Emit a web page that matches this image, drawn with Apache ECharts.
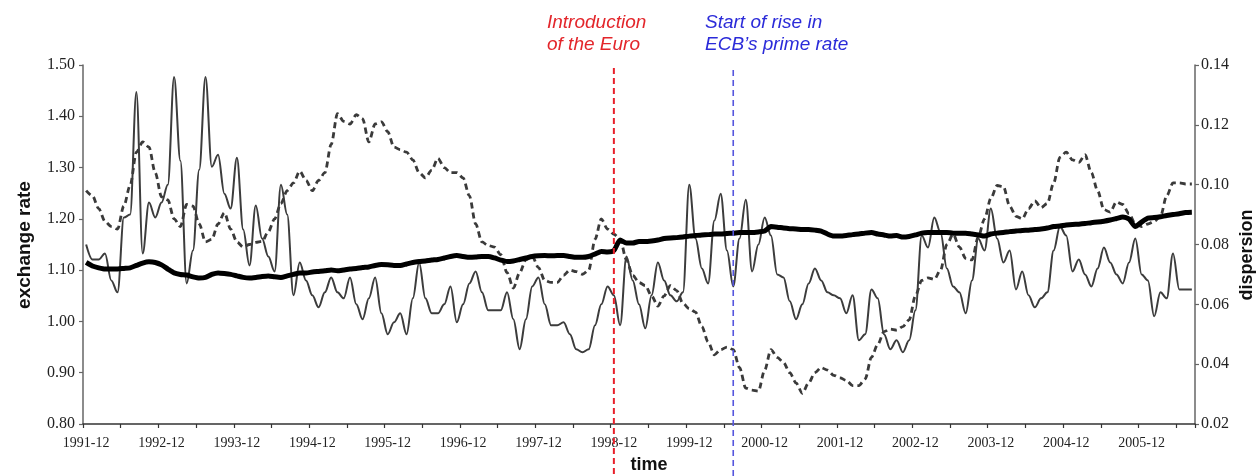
<!DOCTYPE html>
<html>
<head>
<meta charset="utf-8">
<script src="https://cdn.jsdelivr.net/npm/echarts@6/dist/echarts.min.js"></script>
<style>
  html, body { margin: 0; padding: 0; background: #ffffff; }
  #chart { width: 1260px; height: 476px; }
</style>
</head>
<body>
<div id="chart"></div>
<script>
// Monthly observations, 1991-12 through 2006-08
const startYear = 1991, startMonth = 12, monthCount = 177;
const months = [];
for (let i = 0; i < monthCount; i++) {
  const t = (startMonth - 1) + i;
  const y = startYear + Math.floor(t / 12);
  const m = (t % 12) + 1;
  months.push(y + '-' + (m < 10 ? '0' + m : m));
}

// Exchange rate (left axis)
const exchangeRate = [
  1.255, 1.245, 1.22, 1.195, 1.185, 1.18, 1.225, 1.265, 1.33, 1.35,
  1.34, 1.29, 1.243, 1.237, 1.20, 1.185, 1.228, 1.225, 1.19, 1.155,
  1.16, 1.19, 1.212, 1.18, 1.155, 1.145, 1.15, 1.154, 1.156, 1.175,
  1.20, 1.23, 1.255, 1.27, 1.293, 1.275, 1.255, 1.275, 1.29, 1.345,
  1.405, 1.39, 1.385, 1.403, 1.395, 1.35, 1.385, 1.389, 1.37, 1.34,
  1.335, 1.33, 1.315, 1.29, 1.28, 1.295, 1.318, 1.30, 1.29, 1.29,
  1.28, 1.245, 1.19, 1.155, 1.148, 1.145, 1.13, 1.095, 1.065, 1.095,
  1.12, 1.127, 1.105, 1.08, 1.076, 1.076, 1.09, 1.10, 1.097, 1.092,
  1.10, 1.16, 1.20, 1.18, 1.17, 1.16, 1.12, 1.09, 1.076, 1.07,
  1.05, 1.03, 1.05, 1.07, 1.06, 1.035, 1.025, 1.018, 0.99, 0.96,
  0.935, 0.945, 0.95, 0.945, 0.91, 0.87, 0.866, 0.864, 0.905, 0.945,
  0.93, 0.92, 0.90, 0.88, 0.86, 0.88, 0.90, 0.91, 0.905, 0.895,
  0.89, 0.885, 0.875, 0.875, 0.888, 0.93, 0.955, 0.98, 0.985, 0.983,
  0.99, 1.003, 1.05, 1.08, 1.085, 1.082, 1.10, 1.15, 1.17, 1.145,
  1.123, 1.12, 1.165, 1.20, 1.24, 1.265, 1.263, 1.225, 1.205, 1.20,
  1.22, 1.235, 1.222, 1.23, 1.27, 1.32, 1.33, 1.315, 1.31, 1.325,
  1.29, 1.255, 1.218, 1.213, 1.233, 1.228, 1.21, 1.19, 1.185, 1.19,
  1.195, 1.205, 1.245, 1.27, 1.27, 1.268, 1.268
];

// Dispersion, monthly (right axis)
const dispersion = [
  0.080, 0.075, 0.075, 0.077, 0.068, 0.064, 0.089, 0.090, 0.131, 0.077,
  0.094, 0.089, 0.094, 0.100, 0.136, 0.108, 0.067, 0.078, 0.105, 0.136,
  0.106, 0.110, 0.097, 0.092, 0.109, 0.085, 0.073, 0.093, 0.082, 0.076,
  0.071, 0.100, 0.090, 0.063, 0.074, 0.068, 0.063, 0.059, 0.064, 0.069,
  0.064, 0.062, 0.069, 0.060, 0.055, 0.062, 0.069, 0.057, 0.050, 0.054,
  0.057, 0.050, 0.062, 0.074, 0.062, 0.057, 0.057, 0.060, 0.066, 0.054,
  0.060, 0.067, 0.071, 0.064, 0.058, 0.058, 0.058, 0.064, 0.055, 0.045,
  0.055, 0.066, 0.069, 0.060, 0.053, 0.053, 0.054, 0.050, 0.045, 0.044,
  0.045, 0.053, 0.060, 0.066, 0.063, 0.053, 0.076, 0.068, 0.060, 0.052,
  0.063, 0.074, 0.068, 0.063, 0.061, 0.064, 0.100, 0.082, 0.072, 0.067,
  0.088, 0.097, 0.078, 0.066, 0.082, 0.095, 0.071, 0.080, 0.089, 0.083,
  0.070, 0.069, 0.061, 0.055, 0.060, 0.067, 0.072, 0.068, 0.064, 0.063,
  0.062, 0.057, 0.063, 0.048, 0.050, 0.065, 0.062, 0.050, 0.045, 0.048,
  0.044, 0.048, 0.058, 0.083, 0.079, 0.089, 0.084, 0.072, 0.066, 0.064,
  0.057, 0.068, 0.082, 0.078, 0.092, 0.082, 0.074, 0.078, 0.065, 0.071,
  0.063, 0.059, 0.062, 0.064, 0.078, 0.086, 0.083, 0.071, 0.075, 0.070,
  0.066, 0.072, 0.079, 0.074, 0.070, 0.067, 0.074, 0.082, 0.070, 0.068,
  0.056, 0.064, 0.062, 0.077, 0.065, 0.065, 0.065
];

// Dispersion trend (right axis)
const dispersionTrend = [
  0.0740, 0.0728, 0.0722, 0.0718, 0.0718, 0.0718, 0.0720, 0.0722, 0.0730, 0.0738,
  0.0742, 0.0740, 0.0732, 0.0718, 0.0705, 0.0700, 0.0698, 0.0692, 0.0688, 0.0690,
  0.0700, 0.0705, 0.0703, 0.0700, 0.0695, 0.0690, 0.0688, 0.0690, 0.0693, 0.0695,
  0.0692, 0.0690, 0.0695, 0.0700, 0.0705, 0.0705, 0.0708, 0.0710, 0.0712, 0.0715,
  0.0712, 0.0715, 0.0718, 0.0720, 0.0723, 0.0725, 0.0730, 0.0733, 0.0732, 0.0730,
  0.0730, 0.0735, 0.0740, 0.0743, 0.0745, 0.0748, 0.0750, 0.0755, 0.0760, 0.0763,
  0.0760, 0.0757, 0.0758, 0.0760, 0.0760, 0.0755, 0.0748, 0.0743, 0.0745, 0.0750,
  0.0755, 0.0760, 0.0762, 0.0763, 0.0762, 0.0763, 0.0763, 0.0760, 0.0757, 0.0757,
  0.0760, 0.0768, 0.0777, 0.0775, 0.0780, 0.0815, 0.0805, 0.0805, 0.0810, 0.0810,
  0.0812, 0.0815, 0.0820, 0.0822, 0.0823, 0.0825, 0.0828, 0.0830, 0.0832, 0.0833,
  0.0835, 0.0835, 0.0837, 0.0838, 0.0840, 0.0840, 0.0840, 0.0842, 0.0845, 0.0860,
  0.0858, 0.0855, 0.0853, 0.0852, 0.0850, 0.0850, 0.0848, 0.0845, 0.0835, 0.0828,
  0.0828, 0.0830, 0.0833, 0.0835, 0.0838, 0.0840, 0.0835, 0.0832, 0.0828, 0.0830,
  0.0825, 0.0827, 0.0832, 0.0838, 0.0840, 0.0840, 0.0840, 0.0840, 0.0838, 0.0838,
  0.0838, 0.0835, 0.0832, 0.0828, 0.0835, 0.0838, 0.0840, 0.0843, 0.0845, 0.0847,
  0.0848, 0.0850, 0.0852, 0.0855, 0.0860, 0.0862, 0.0865, 0.0867, 0.0868, 0.0870,
  0.0873, 0.0875, 0.0878, 0.0882, 0.0887, 0.0892, 0.0885, 0.0860, 0.0875, 0.0888,
  0.0890, 0.0893, 0.0897, 0.0900, 0.0903, 0.0907, 0.0908
];

// Event markers
const euroIntroMonth = '1998-12';
const ecbRiseMonth = '2000-07';

const serifFont = '"Liberation Serif", "DejaVu Serif", serif';
const sansFont = '"Liberation Sans", Arial, sans-serif';

const chart = echarts.init(document.getElementById('chart'), null, { renderer: 'canvas' });

chart.setOption({
  animation: false,
  backgroundColor: '#ffffff',
  grid: { left: 83, right: 65, top: 65, bottom: 52, containLabel: false },
  xAxis: {
    type: 'category',
    data: months,
    boundaryGap: true,
    axisLine: { show: true, lineStyle: { color: '#333333', width: 1.5 } },
    axisTick: { show: true, interval: 5, length: 4, lineStyle: { color: '#333333', width: 1.2 } },
    axisLabel: {
      interval: 11,
      margin: 12,
      color: '#222222',
      fontFamily: serifFont,
      fontSize: 14
    },
    splitLine: { show: false }
  },
  yAxis: [
    {
      type: 'value',
      min: 0.8,
      max: 1.5,
      interval: 0.1,
      position: 'left',
      axisLine: { show: true, lineStyle: { color: '#666666', width: 1.5 } },
      axisTick: { show: true, length: 4, lineStyle: { color: '#666666', width: 1.2 } },
      axisLabel: {
        margin: 8,
        color: '#222222',
        fontFamily: serifFont,
        fontSize: 16,
        formatter: v => v.toFixed(2)
      },
      splitLine: { show: false }
    },
    {
      type: 'value',
      min: 0.02,
      max: 0.14,
      interval: 0.02,
      position: 'right',
      axisLine: { show: true, lineStyle: { color: '#666666', width: 1.5 } },
      axisTick: { show: true, length: 4, lineStyle: { color: '#666666', width: 1.2 } },
      axisLabel: {
        margin: 6,
        color: '#222222',
        fontFamily: serifFont,
        fontSize: 16,
        formatter: v => v.toFixed(2)
      },
      splitLine: { show: false }
    }
  ],
  series: [
    {
      name: 'exchange rate',
      type: 'line',
      yAxisIndex: 0,
      data: exchangeRate,
      showSymbol: false,
      smooth: 0.3,
      smoothMonotone: 'x',
      lineStyle: { color: '#3a3a3a', width: 2.8, type: [6, 4] },
      z: 2
    },
    {
      name: 'dispersion',
      type: 'line',
      yAxisIndex: 1,
      data: dispersion,
      showSymbol: false,
      smooth: 0.35,
      smoothMonotone: 'x',
      lineStyle: { color: '#3c3c3c', width: 2 },
      z: 3
    },
    {
      name: 'dispersion trend',
      type: 'line',
      yAxisIndex: 1,
      data: dispersionTrend,
      showSymbol: false,
      smooth: 0.2,
      lineStyle: { color: '#000000', width: 5 },
      z: 4
    }
  ]
});

// Vertical event lines and captions, positioned from the category axis
const euroX = chart.convertToPixel({ xAxisIndex: 0 }, euroIntroMonth);
const ecbX = chart.convertToPixel({ xAxisIndex: 0 }, ecbRiseMonth);

chart.setOption({
  graphic: [
    {
      type: 'line', z: 100,
      shape: { x1: euroX, y1: 68, x2: euroX, y2: 476 },
      style: { stroke: '#e8202a', lineWidth: 2, lineDash: [6, 4] }
    },
    {
      type: 'line', z: 100,
      shape: { x1: ecbX, y1: 70, x2: ecbX, y2: 476 },
      style: { stroke: '#5555dd', lineWidth: 1.6, lineDash: [6, 4] }
    },
    {
      type: 'text', x: 547, y: 12, z: 100,
      style: {
        text: 'Introduction\nof the Euro',
        fill: '#e3262b',
        font: 'italic 19px ' + sansFont,
        lineHeight: 22,
        align: 'left',
        verticalAlign: 'top'
      }
    },
    {
      type: 'text', x: 705, y: 12, z: 100,
      style: {
        text: 'Start of rise in\nECB\u2019s prime rate',
        fill: '#2b2bd9',
        font: 'italic 19px ' + sansFont,
        lineHeight: 22,
        align: 'left',
        verticalAlign: 'top'
      }
    },
    {
      type: 'text', x: 25, y: 245, rotation: Math.PI / 2, z: 100,
      style: {
        text: 'exchange rate',
        fill: '#111111',
        font: 'bold 19px ' + sansFont,
        align: 'center',
        verticalAlign: 'middle'
      }
    },
    {
      type: 'text', x: 1247, y: 255, rotation: Math.PI / 2, z: 100,
      style: {
        text: 'dispersion',
        fill: '#111111',
        font: 'bold 18px ' + sansFont,
        align: 'center',
        verticalAlign: 'middle'
      }
    },
    {
      type: 'text', x: 649, y: 465, z: 100,
      style: {
        text: 'time',
        fill: '#111111',
        font: 'bold 18px ' + sansFont,
        align: 'center',
        verticalAlign: 'middle'
      }
    }
  ]
});
</script>
</body>
</html>
